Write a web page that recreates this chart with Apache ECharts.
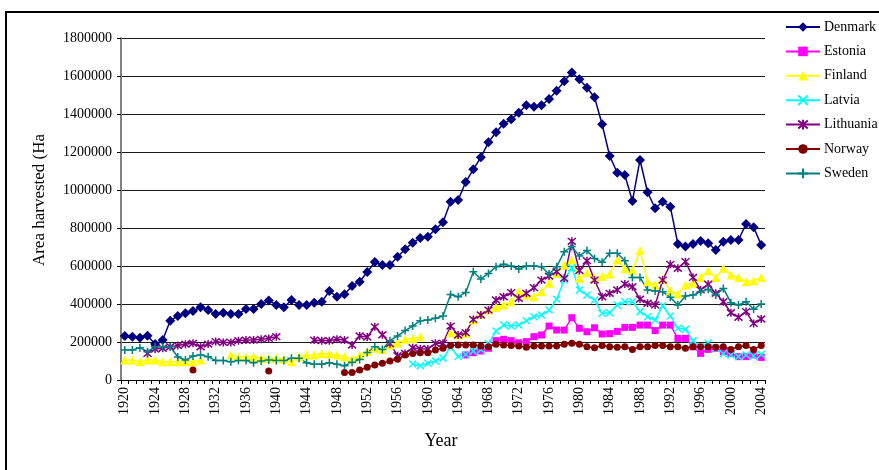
<!DOCTYPE html>
<html>
<head>
<meta charset="utf-8">
<script src="https://cdn.jsdelivr.net/npm/echarts@6/dist/echarts.min.js"></script>
<style>
  html, body { margin: 0; padding: 0; background: #fff; }
  #chart { width: 879px; height: 470px; }
</style>
</head>
<body>
<div id="chart"></div>
<script>
// Harvested area by country, 1920-2004 (hectares)
const years = [];
for (let y = 1920; y <= 2004; y++) years.push(String(y));
const _ = null;

const denmark = [
  232000,228000,223000,233000,189000,210000,312000,337000,351000,363000,
  383000,368000,347000,354000,347000,347000,374000,374000,400000,418000,
  395000,383000,421000,395000,395000,407000,412000,468000,438000,451000,
  495000,517000,568000,621000,605000,605000,649000,688000,723000,747000,
  754000,793000,830000,938000,947000,1042000,1109000,1172000,1251000,1304000,
  1349000,1372000,1407000,1446000,1438000,1446000,1479000,1523000,1572000,1619000,
  1583000,1538000,1488000,1346000,1179000,1091000,1079000,942000,1158000,988000,
  904000,938000,912000,716000,702000,716000,732000,720000,684000,728000,
  737000,737000,821000,804000,711000
];
const estonia = [
  _,_,_,_,_,_,_,_,_,_,
  _,_,_,_,_,_,_,_,_,_,
  _,_,_,_,_,_,_,_,_,_,
  _,_,_,_,_,_,_,_,_,_,
  _,_,_,_,_,132000,144000,153000,167000,207000,
  214000,207000,196000,202000,228000,237000,284000,263000,263000,328000,
  272000,254000,275000,242000,244000,256000,277000,277000,289000,289000,
  260000,289000,289000,219000,219000,175000,140000,161000,167000,149000,
  140000,123000,123000,132000,119000
];
const finland = [
  105000,105000,96000,105000,105000,96000,96000,96000,96000,96000,
  105000,_,_,_,132000,123000,123000,123000,114000,114000,
  114000,110000,96000,123000,132000,132000,140000,137000,132000,123000,
  110000,130000,150000,167000,160000,184000,195000,214000,219000,228000,
  _,_,_,249000,237000,246000,316000,346000,368000,383000,
  395000,412000,465000,447000,438000,465000,509000,561000,605000,632000,
  535000,565000,535000,545000,558000,633000,585000,577000,681000,517000,
  500000,530000,470000,453000,500000,509000,540000,575000,540000,588000,
  553000,540000,517000,523000,540000
];
const latvia = [
  _,_,_,_,_,_,_,_,_,_,
  _,_,_,_,_,_,_,_,_,_,
  _,_,_,_,_,_,_,_,_,_,
  _,_,_,_,_,_,_,_,84000,75000,
  88000,100000,115000,172000,124000,134000,152000,160000,190000,258000,
  289000,284000,289000,312000,333000,342000,368000,425000,526000,590000,
  474000,447000,421000,351000,354000,395000,412000,412000,360000,333000,
  316000,390000,337000,272000,267000,206000,175000,195000,167000,138000,
  132000,123000,132000,126000,135000
];
const lithuania = [
  _,_,_,140000,163000,167000,175000,181000,188000,193000,
  175000,189000,202000,198000,198000,207000,210000,210000,214000,219000,
  228000,_,_,_,_,210000,207000,207000,214000,210000,
  184000,232000,226000,280000,238000,191000,128000,140000,170000,163000,
  163000,193000,193000,284000,237000,249000,319000,342000,368000,421000,
  438000,460000,430000,456000,486000,526000,547000,570000,535000,730000,
  576000,628000,526000,438000,456000,474000,505000,491000,425000,404000,
  395000,526000,609000,588000,623000,540000,474000,504000,456000,412000,
  354000,330000,360000,298000,321000
];
const norway = [
  _,_,_,_,_,_,_,_,_,53000,
  _,_,_,_,_,_,_,_,_,47000,
  _,_,_,_,_,_,_,_,_,39000,
  39000,53000,67000,79000,88000,100000,109000,132000,140000,144000,
  144000,158000,167000,181000,184000,184000,184000,179000,175000,188000,
  184000,181000,179000,172000,179000,179000,179000,179000,188000,193000,
  188000,175000,170000,181000,175000,172000,175000,161000,175000,175000,
  181000,181000,175000,175000,167000,175000,175000,175000,172000,175000,
  161000,175000,181000,161000,181000
];
const sweden = [
  158000,158000,170000,149000,175000,175000,175000,121000,105000,126000,
  132000,123000,102000,102000,96000,102000,102000,91000,100000,105000,
  102000,102000,114000,114000,91000,83000,83000,91000,83000,75000,
  94000,108000,145000,175000,161000,207000,232000,260000,284000,312000,
  316000,325000,337000,450000,438000,461000,570000,532000,561000,596000,
  609000,600000,584000,600000,600000,596000,558000,596000,675000,702000,
  653000,681000,640000,620000,667000,667000,628000,540000,540000,474000,
  468000,465000,435000,395000,442000,447000,465000,477000,447000,482000,
  407000,395000,412000,372000,400000
];

const FONT = 'Liberation Serif';

// Open-stroke marker shapes
const SYM_X = 'path://M0,0L10,10M10,0L0,10';
const SYM_STAR = 'path://M0,0L10,10M10,0L0,10M5,-1L5,11';
const SYM_PLUS = 'path://M5,0L5,10M0,5L10,5';

function makeSeries(name, data, color, symbol, size, stroked) {
  return {
    name: name,
    type: 'line',
    data: data,
    symbol: symbol,
    symbolSize: size,
    showSymbol: true,
    showAllSymbol: true,
    connectNulls: false,
    animation: false,
    lineStyle: { color: color, width: 1.5 },
    itemStyle: stroked
      ? { color: color, borderColor: color, borderWidth: 1.5 }
      : { color: color, borderWidth: 0 },
    emphasis: { disabled: true }
  };
}

const chart = echarts.init(document.getElementById('chart'), null, { renderer: 'canvas' });
chart.setOption({
  backgroundColor: '#fff',
  animation: false,
  textStyle: { fontFamily: FONT },
  grid: { left: 121, right: 114, top: 38, bottom: 90, containLabel: false },
  legend: {
    orient: 'vertical',
    left: 785,
    top: 20,
    padding: 0,
    itemWidth: 34,
    itemHeight: 12,
    itemGap: 10.4,
    textStyle: { fontFamily: FONT, fontSize: 14, color: '#000', padding: [0, 0, 0, -1] },
    data: ['Denmark', 'Estonia', 'Finland', 'Latvia', 'Lithuania', 'Norway', 'Sweden']
  },
  xAxis: {
    type: 'category',
    data: years,
    boundaryGap: true,
    axisLine: { show: true, lineStyle: { color: '#000', width: 1 } },
    axisTick: { show: true, interval: 0, length: 4, lineStyle: { color: '#000' } },
    axisLabel: {
      interval: 3,
      rotate: 90,
      margin: 7,
      fontFamily: FONT,
      fontSize: 14,
      color: '#000'
    },
    splitLine: { show: false }
  },
  yAxis: {
    type: 'value',
    min: 0,
    max: 1800000,
    interval: 200000,
    axisLine: { show: true, lineStyle: { color: '#808080', width: 2 } },
    axisTick: { show: true, length: 4, lineStyle: { color: '#000' } },
    axisLabel: {
      margin: 9,
      fontFamily: FONT,
      fontSize: 14,
      color: '#000',
      formatter: function (v) { return String(v); }
    },
    splitLine: { show: true, lineStyle: { color: '#1a1a1a', width: 1 } }
  },
  graphic: [
    {
      type: 'rect',
      silent: true,
      shape: { x: 6, y: 12, width: 1000, height: 1000 },
      style: { fill: 'none', stroke: '#000', lineWidth: 2 }
    },
    {
      type: 'text',
      silent: true,
      x: 40,
      y: 200,
      rotation: Math.PI / 2,
      style: {
        text: 'Area harvested (Ha',
        font: '17px "' + FONT + '"',
        fill: '#000',
        textAlign: 'center',
        textVerticalAlign: 'middle'
      }
    },
    {
      type: 'text',
      silent: true,
      x: 441,
      y: 441,
      style: {
        text: 'Year',
        font: '18px "' + FONT + '"',
        fill: '#000',
        textAlign: 'center',
        textVerticalAlign: 'middle'
      }
    }
  ],
  series: [
    makeSeries('Denmark', denmark, '#000080', 'diamond', 10, false),
    makeSeries('Estonia', estonia, '#FF00FF', 'rect', 7, false),
    makeSeries('Finland', finland, '#FFFF00', 'triangle', 9, false),
    makeSeries('Latvia', latvia, '#00FFFF', SYM_X, 7, true),
    makeSeries('Lithuania', lithuania, '#800080', SYM_STAR, 8, true),
    makeSeries('Norway', norway, '#800000', 'circle', 7, false),
    makeSeries('Sweden', sweden, '#008080', SYM_PLUS, 8, true)
  ]
});
</script>
</body>
</html>
